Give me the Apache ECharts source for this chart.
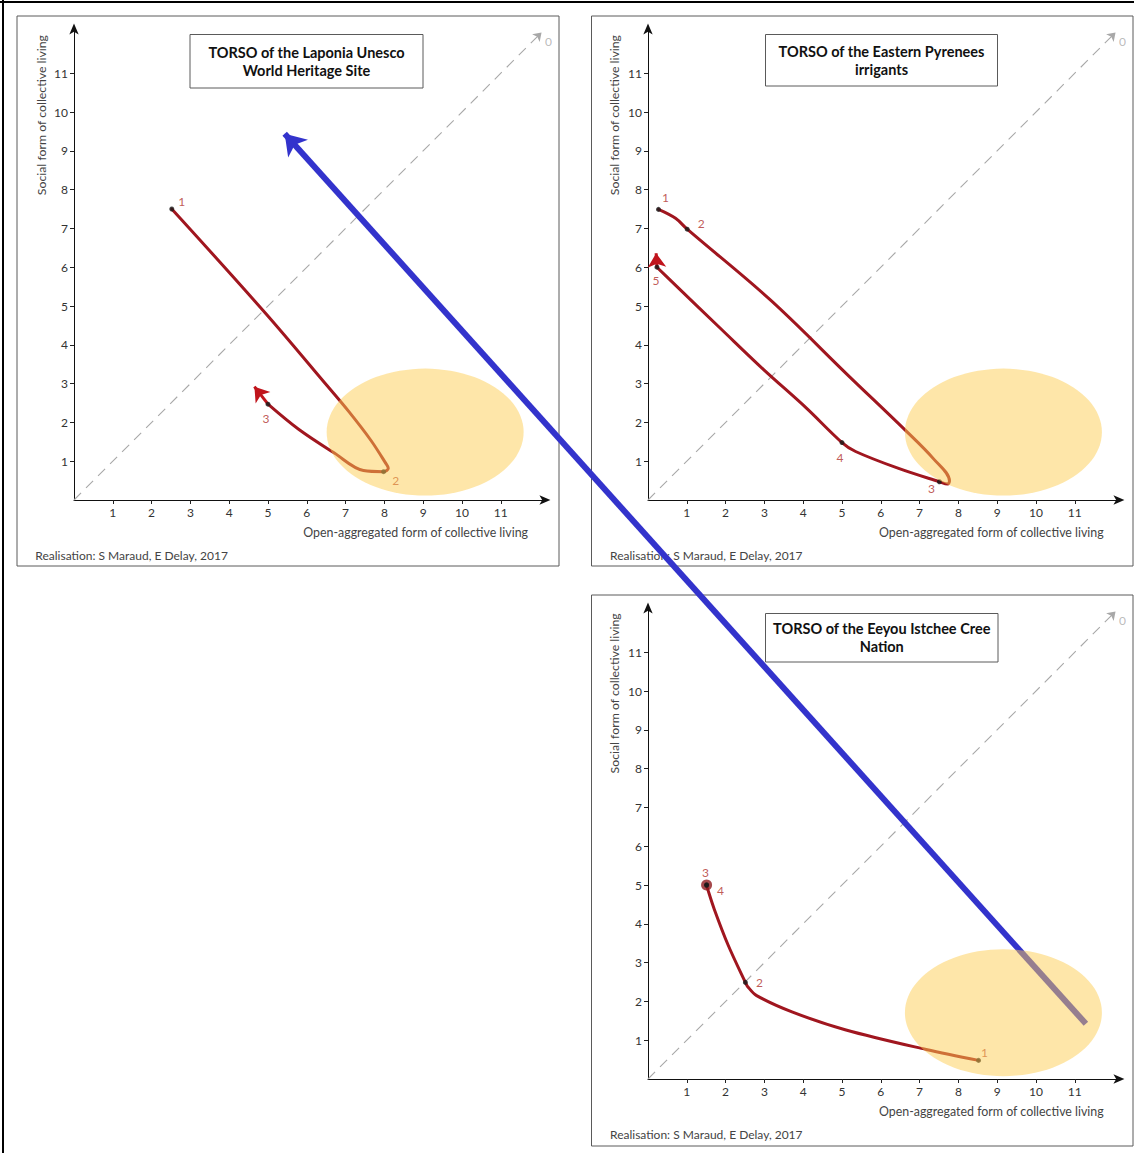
<!DOCTYPE html>
<html>
<head>
<meta charset="utf-8">
<script src="https://cdn.jsdelivr.net/npm/echarts@6/dist/echarts.min.js"></script>
<style>
  html, body { margin: 0; padding: 0; background: #fff; }
  #chart { width: 1134px; height: 1153px; }
</style>
</head>
<body>
<div id="chart"></div>
<script>
// ---------- data ----------
const tickValues = [1, 2, 3, 4, 5, 6, 7, 8, 9, 10, 11];
const axisMax = 12.15;
const xAxisName = 'Open-aggregated form of collective living';
const yAxisName = 'Social form of collective living';
const credit = 'Realisation: S Maraud, E Delay, 2017';
const titles = [
  'TORSO of the Laponia Unesco\nWorld Heritage Site',
  'TORSO of the Eastern Pyrenees\nirrigants',
  'TORSO of the Eeyou Istchee Cree\nNation'
];

// diagonal reference line (x = y) and its label
const diagonal = [[0, 0], [12.05, 12.05]];
const diagonalLabel = '0';

// Laponia trajectory
const laponiaPath = [[2.52, 7.5], [4.93, 4.82], [6.52, 2.95], [7.09, 2.27], [7.65, 1.54], [8.02, 0.97],
  [8.1, 0.82], [7.98, 0.73], [7.46, 0.76], [6.71, 1.21], [5.78, 1.83], [5.0, 2.47]];
const laponiaArrow = [[5.0, 2.47], [4.65, 2.92]];
const laponiaPoints = [[2.52, 7.5], [7.98, 0.73], [5.0, 2.47]];
const laponiaLabels = ['1', '2', '3'];
const laponiaZone = [9.05, 1.75];

// Eastern Pyrenees trajectory
const pyreneesPath = [[0.27, 7.49], [0.71, 7.26], [1.01, 6.98], [3.16, 5.15], [5.17, 3.2], [6.63, 1.8],
  [7.36, 1.06], [7.77, 0.49], [7.72, 0.41], [7.51, 0.47], [6.44, 0.82], [5.35, 1.25], [5.0, 1.48],
  [4.07, 2.38], [2.98, 3.36], [1.89, 4.4], [0.62, 5.62], [0.23, 6.0]];
const pyreneesArrow = [[0.23, 6.0], [0.21, 6.36]];
const pyreneesPoints = [[0.27, 7.49], [1.01, 6.98], [7.51, 0.47], [5.0, 1.48], [0.23, 6.0]];
const pyreneesLabels = ['1', '2', '3', '4', '5'];
const pyreneesZone = [9.16, 1.75];

// Eeyou Istchee Cree trajectory
const creePath = [[8.52, 0.48], [7.17, 0.76], [5.08, 1.27], [3.71, 1.73], [2.80, 2.15], [2.57, 2.38],
  [2.51, 2.49], [2.07, 3.44], [1.71, 4.37], [1.53, 4.92], [1.51, 5.0]];
const creePoints = [[8.52, 0.48], [2.51, 2.49], [1.51, 5.0], [1.51, 5.0]];
const creeLabels = ['1', '2', '3', '4'];
const creeZone = [9.16, 1.71];
const creeRevisit = [[1.51, 5.0]];

// overlaid annotation arrow (expressed in the first panel's units)
const blueArrow = [[26.08, -13.5], [5.43, 9.44]];

// ---------- layout / styles ----------
const unit = 38.8;
const side = axisMax * unit;
const grids = [
  { left: 74, top: 500 - side, width: side, height: side },
  { left: 648, top: 500 - side, width: side, height: side },
  { left: 648, top: 1079 - side, width: side, height: side }
];
const FONT = 'Lato, "Open Sans", sans-serif';
const RED = '#a0161f';
const LABEL_RED = '#b0302c';
const ZONE = 'rgba(252,205,80,0.62)';

const labelOffsets = [
  [[10, -8], [12, 9], [-2, 14]],
  [[7, -12], [14, -6], [-8, 7], [-2, 15], [-1, 13]],
  [[6, -8], [14, 0], [-1, -13], [14, 5]]
];

const panels = [
  { path: laponiaPath, arrow: laponiaArrow, points: laponiaPoints, labels: laponiaLabels, zone: laponiaZone },
  { path: pyreneesPath, arrow: pyreneesArrow, points: pyreneesPoints, labels: pyreneesLabels, zone: pyreneesZone },
  { path: creePath, arrow: null, points: creePoints, labels: creeLabels, zone: creeZone }
];

const xAxes = [], yAxes = [], series = [];

function axisCommon(i) {
  return {
    gridIndex: i, type: 'value', min: 0, max: axisMax, interval: 1,
    axisLine: { show: true, onZero: false, symbol: ['none', 'arrow'], symbolSize: [7, 11], symbolOffset: [0, 5],
      lineStyle: { color: '#111', width: 1 } },
    axisTick: { show: true, customValues: tickValues, length: 4, lineStyle: { color: '#222', width: 1 } },
    axisLabel: { customValues: tickValues, color: '#333', fontSize: 12, fontFamily: FONT, margin: 6 },
    splitLine: { show: false }
  };
}

panels.forEach((p, i) => {
  xAxes.push(axisCommon(i));
  yAxes.push(axisCommon(i));
  // diagonal dashed line
  series.push({
    type: 'lines', coordinateSystem: 'cartesian2d', xAxisIndex: i, yAxisIndex: i, clip: false, silent: true,
    symbol: ['none', 'arrow'], symbolSize: [5, 8], z: 1,
    lineStyle: { color: '#a8a8a8', width: 1.1, type: [10, 7], opacity: 1 },
    data: [{ coords: diagonal }]
  });
  series.push({
    type: 'scatter', xAxisIndex: i, yAxisIndex: i, symbol: 'circle', symbolSize: 2, clip: false, silent: true, z: 1,
    itemStyle: { color: 'rgba(255,255,255,0)' },
    label: { show: true, position: 'inside', offset: [7, 9], formatter: diagonalLabel, color: '#aaa', fontSize: 12, fontFamily: FONT },
    data: [diagonal[1]]
  });
  // trajectory
  series.push({
    type: 'line', xAxisIndex: i, yAxisIndex: i, smooth: 0.35, symbol: 'none', z: 3, silent: true,
    lineStyle: { color: RED, width: 3, cap: 'round', join: 'round' },
    data: p.path
  });
  if (p.arrow) {
    series.push({
      type: 'lines', coordinateSystem: 'cartesian2d', xAxisIndex: i, yAxisIndex: i, clip: false, silent: true,
      symbol: ['none', 'arrow'], symbolSize: [12, 14], z: 3,
      lineStyle: { color: '#c0141c', width: 3, opacity: 1 },
      data: [{ coords: p.arrow }]
    });
  }
  if (i === 2) {
    series.push({
      type: 'scatter', xAxisIndex: i, yAxisIndex: i, symbolSize: 11, z: 3, silent: true,
      itemStyle: { color: '#8e1b1f' }, data: creeRevisit
    });
  }
  // key points with labels
  series.push({
    type: 'scatter', xAxisIndex: i, yAxisIndex: i, symbolSize: 5, z: 4, silent: true,
    itemStyle: { color: '#1a1a1a' },
    data: p.points.map((pt, k) => ({
      value: pt,
      label: { show: true, position: 'inside', offset: labelOffsets[i][k], formatter: p.labels[k],
        color: LABEL_RED, fontSize: 12, fontFamily: FONT }
    }))
  });
  // highlighted zone
  series.push({
    type: 'scatter', xAxisIndex: i, yAxisIndex: i, symbol: 'circle', symbolSize: [197, 127], z: 6, silent: true,
    itemStyle: { color: ZONE }, data: [p.zone]
  });
});

// overlaid blue annotation arrow
series.push({
  type: 'lines', coordinateSystem: 'cartesian2d', xAxisIndex: 0, yAxisIndex: 0, clip: false, silent: true,
  symbol: ['none', 'arrow'], symbolSize: [16, 20], z: 5,
  lineStyle: { color: '#3333cc', width: 6, opacity: 1 },
  data: [{ coords: blueArrow }]
});

// ---------- frame / text graphics ----------
const frames = [[17, 16, 542, 550], [591.5, 16, 541.5, 550], [591.5, 595, 541.5, 551]];
const titleBoxes = [[190, 34.5, 233, 53.5], [765.5, 34.5, 232, 51.5], [765.5, 613.5, 232.5, 48.5]];
const yNamePos = [[41, 35], [614.6, 35], [614.6, 613.3]];
const xNamePos = [[528, 532], [1103.7, 532.7], [1103.7, 1111.4]];
const creditPos = [[35.3, 555], [610, 555], [610, 1134]];

const graphic = [];
graphic.push({ type: 'line', z: 0, shape: { x1: 0, y1: 2, x2: 1134, y2: 2 }, style: { stroke: '#000', lineWidth: 2 } });
graphic.push({ type: 'line', z: 0, shape: { x1: 3, y1: 0, x2: 3, y2: 1153 }, style: { stroke: '#000', lineWidth: 2 } });
frames.forEach((f, i) => {
  graphic.push({ type: 'rect', z: 0, shape: { x: f[0], y: f[1], width: f[2], height: f[3] },
    style: { fill: 'none', stroke: '#5a5a5a', lineWidth: 1 } });
  const b = titleBoxes[i];
  graphic.push({ type: 'rect', z: 0, shape: { x: b[0], y: b[1], width: b[2], height: b[3] },
    style: { fill: '#fff', stroke: '#5a5a5a', lineWidth: 1 } });
  graphic.push({ type: 'text', z: 1, x: b[0] + b[2] / 2, y: b[1] + b[3] / 2,
    style: { text: titles[i], textAlign: 'center', textVerticalAlign: 'middle', fill: '#111',
      font: 'bold 14.5px ' + FONT, lineHeight: 18 } });
  graphic.push({ type: 'text', z: 1, x: yNamePos[i][0], y: yNamePos[i][1], rotation: Math.PI / 2,
    style: { text: yAxisName, textAlign: 'right', textVerticalAlign: 'middle', fill: '#444', font: '12.3px ' + FONT } });
  graphic.push({ type: 'text', z: 1, x: xNamePos[i][0], y: xNamePos[i][1],
    style: { text: xAxisName, textAlign: 'right', textVerticalAlign: 'middle', fill: '#444', font: '12.4px ' + FONT } });
  graphic.push({ type: 'text', z: 1, x: creditPos[i][0], y: creditPos[i][1],
    style: { text: credit, textAlign: 'left', textVerticalAlign: 'middle', fill: '#444', font: '12px ' + FONT } });
});

const chart = echarts.init(document.getElementById('chart'), null, { renderer: 'svg' });
chart.setOption({
  animation: false,
  backgroundColor: '#fff',
  grid: grids,
  xAxis: xAxes,
  yAxis: yAxes,
  graphic: graphic,
  series: series
});
</script>
</body>
</html>
